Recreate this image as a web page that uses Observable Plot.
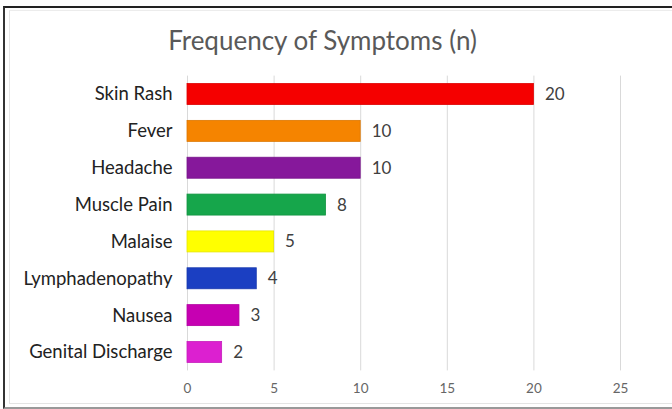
<!DOCTYPE html>
<html><head><meta charset="utf-8">
<script src="https://cdn.jsdelivr.net/npm/d3@7"></script>
<script src="https://cdn.jsdelivr.net/npm/@observablehq/plot@0.6"></script>
<style>
html,body{margin:0;padding:0;background:#fff;}
#wrap{position:relative;width:672px;height:409px;overflow:hidden;background:#fff;}
#frame{position:absolute;left:3px;top:6px;width:680px;height:399px;border-left:2px solid #333;border-top:2px solid #222;border-bottom:2px solid #999;}
#inner{position:absolute;left:9px;top:10px;width:664px;height:392px;border-left:1px solid #e4e4e4;border-top:1px solid #ececec;border-bottom:1px solid #e4e4e4;}
#chart{position:absolute;left:0;top:0;}
</style></head>
<body><div id="wrap"><div id="frame"></div><div id="inner"></div><div id="chart"></div></div>
<script>
const title = "Frequency of Symptoms (n)";
const symptoms = ["Skin Rash","Fever","Headache","Muscle Pain","Malaise","Lymphadenopathy","Nausea","Genital Discharge"];
const counts = [20,10,10,8,5,4,3,2];
const colors = ["#f50000","#f58400","#86189b","#16a64b","#ffff00","#1b3fc2","#c600b2","#dc20d0"];
const xTicks = [0,5,10,15,20,25];

const data = symptoms.map((s,i)=>({symptom:s, n:counts[i], color:colors[i]}));

const chart = Plot.plot({
  width: 672, height: 409,
  marginTop: 75.6, marginBottom: 38.6, marginLeft: 187, marginRight: 52,
  style: {fontFamily: "Lato, sans-serif", background: "transparent", overflow: "visible"},
  x: {domain: [0,25], ticks: xTicks, label: null},
  y: {domain: symptoms, paddingInner: 0.43, paddingOuter: 0.215, round: false, label: null},
  marks: [
    Plot.gridX(xTicks, {stroke: "#d9d9d9", strokeOpacity: 1, strokeWidth: 1}),
    Plot.barX(data, {x: "n", y: "symptom", fill: "color", stroke: d=>d3.color(d.color).darker(0.3).formatHex(), strokeWidth: 0.8}),
    Plot.text(data, {x: "n", y: "symptom", text: d=>String(d.n), textAnchor: "start", dx: 11, fontSize: 17, fill: "#404040"}),
    Plot.axisY({tickSize: 0, tickPadding: 15, fontSize: 18.5, fill: "#222"}),
    Plot.axisX(xTicks, {tickSize: 0, tickPadding: 13, fontSize: 13.5, fill: "#666"}),
    Plot.text([title], {frameAnchor: "top", dx: 322-(187+(672-52-187)/2), dy: -34, fontSize: 26, fill: "#595959", lineAnchor: "middle"})
  ]
});
document.getElementById("chart").appendChild(chart);
</script></body></html>
